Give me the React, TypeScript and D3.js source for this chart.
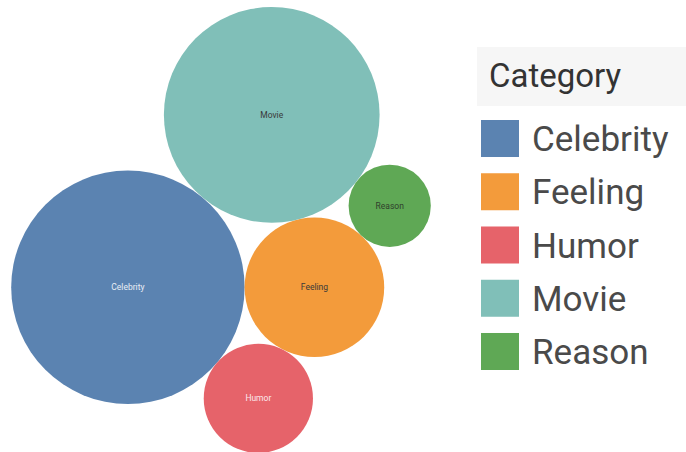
import React from "react";
import * as d3 from "d3";

const categories = ["Celebrity", "Feeling", "Humor", "Movie", "Reason"];
const values = [137, 49, 30, 117, 17];
const colors = ["#5b83b1", "#f39b3b", "#e6636a", "#80bfb8", "#5fa855"];
const labelColors = ["#e9eef5", "#3a3a3a", "#fbe9ea", "#3a3a3a", "#2f3f2c"];
const legendTitle = "Category";

// packing topology: each bubble is tangent to two earlier ones (side +1 / -1)
const placement: { name: string; a?: string; b?: string; side?: number }[] = [
  { name: "Celebrity" },
  { name: "Feeling", a: "Celebrity" },
  { name: "Movie", a: "Celebrity", b: "Feeling", side: -1 },
  { name: "Humor", a: "Celebrity", b: "Feeling", side: 1 },
  { name: "Reason", a: "Feeling", b: "Movie", side: 1 },
];

const W = 686;
const H = 452;
const pane = { x: 0, y: 4, w: 442, h: 452, pad: 3 };

type C = { name: string; x: number; y: number; r: number; i: number };

function layout(): C[] {
  const rs = d3.scaleSqrt().domain([0, 1]).range([0, 1]);
  const out: Record<string, C> = {};
  placement.forEach((p) => {
    const i = categories.indexOf(p.name);
    const r = rs(values[i]);
    if (!p.a) {
      out[p.name] = { name: p.name, x: 0, y: 0, r, i };
    } else if (!p.b) {
      const A = out[p.a];
      out[p.name] = { name: p.name, x: A.x + A.r + r, y: A.y, r, i };
    } else {
      const A = out[p.a];
      const B = out[p.b];
      const da = A.r + r;
      const db = B.r + r;
      const dx = B.x - A.x;
      const dy = B.y - A.y;
      const d = Math.hypot(dx, dy);
      const ux = dx / d;
      const uy = dy / d;
      const a = (da * da - db * db + d * d) / (2 * d);
      const h = Math.sqrt(Math.max(0, da * da - a * a));
      const s = p.side || 1;
      out[p.name] = {
        name: p.name,
        x: A.x + a * ux + s * h * -uy,
        y: A.y + a * uy + s * h * ux,
        r,
        i,
      };
    }
  });
  const cs = Object.values(out);
  const x0 = d3.min(cs, (c) => c.x - c.r)!;
  const x1 = d3.max(cs, (c) => c.x + c.r)!;
  const y0 = d3.min(cs, (c) => c.y - c.r)!;
  const y1 = d3.max(cs, (c) => c.y + c.r)!;
  const k = Math.min(
    (pane.w - 2 * pane.pad) / (x1 - x0),
    (pane.h - 2 * pane.pad) / (y1 - y0)
  );
  const cx = pane.x + pane.w / 2;
  const cy = pane.y + pane.h / 2;
  const mx = (x0 + x1) / 2;
  const my = (y0 + y1) / 2;
  return cs.map((c) => ({
    ...c,
    x: cx + (c.x - mx) * k,
    y: cy + (c.y - my) * k,
    r: c.r * k,
  }));
}

export default function App() {
  const circles = layout();
  const legendY = d3
    .scaleBand()
    .domain(categories)
    .range([120, 370])
    .paddingInner(0.305)
    .paddingOuter(0);
  return (
    <svg
      width={W}
      height={H}
      style={{ position: "absolute", left: 0, top: 0, background: "#fff" }}
      fontFamily="Roboto, 'Noto Sans', sans-serif"
    >
      <g>
        {circles.map((c) => (
          <g key={c.name}>
            <circle cx={c.x} cy={c.y} r={c.r} fill={colors[c.i]} />
            <text
              x={c.x}
              y={c.y}
              dy="0.35em"
              textAnchor="middle"
              fontSize={8.5}
              fill={labelColors[c.i]}
            >
              {c.name}
            </text>
          </g>
        ))}
      </g>
      <g>
        <rect x={477} y={47} width={209} height={59} fill="#f6f6f6" />
        <text x={489} y={75} dy="0.36em" fontSize={33} fill="#333">
          {legendTitle}
        </text>
        {categories.map((cat, i) => (
          <g key={cat} transform={`translate(481, ${legendY(cat)})`}>
            <rect width={38} height={legendY.bandwidth()} fill={colors[i]} />
            <text
              x={51}
              y={legendY.bandwidth() / 2}
              dy="0.36em"
              fontSize={35}
              fill="#4a4a4a"
            >
              {cat}
            </text>
          </g>
        ))}
      </g>
    </svg>
  );
}
